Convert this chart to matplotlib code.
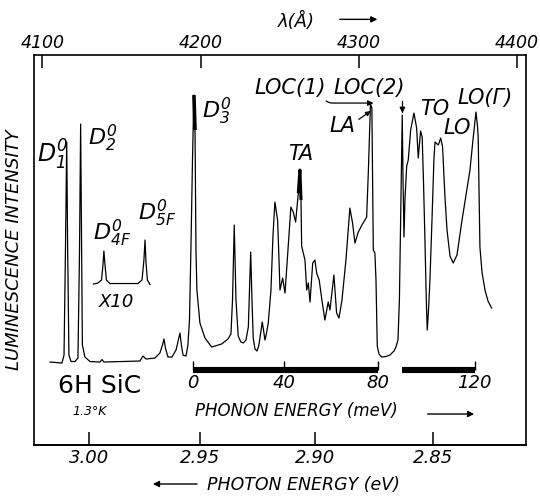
import numpy as np
import matplotlib
matplotlib.use("Agg")
import matplotlib.pyplot as plt

plt.rcParams['font.family'] = ['DejaVu Sans']
plt.rcParams['font.style'] = 'italic'
plt.rcParams['mathtext.fontset'] = 'dejavusans'
plt.rcParams['mathtext.default'] = 'it'

# luminescence trace: wavelength (A) vs intensity (arb. units)
wavelength = [4104.8, 4112.4, 4113.7, 4114.6, 4115.4, 4116.0, 4116.8, 4118.1, 4120.6, 4122.5,
              4123.5, 4124.2, 4124.8, 4125.3, 4126.9, 4130.1, 4136.4, 4137.7, 4138.9, 4161.7,
              4163.6, 4165.5, 4171.2, 4174.3, 4175.9, 4176.9, 4177.8, 4179.4, 4181.9, 4184.5,
              4186.0, 4187.0, 4187.9, 4188.9, 4190.8, 4192.0, 4193.0, 4193.9, 4194.9, 4195.8,
              4196.5, 4197.1, 4197.7, 4199.6, 4202.8, 4207.0, 4213.3, 4217.3, 4219.2, 4220.2,
              4221.3, 4222.4, 4223.8, 4225.5, 4227.0, 4228.7, 4230.2, 4231.7, 4232.5, 4233.3,
              4234.4, 4235.7, 4236.9, 4239.0, 4239.8, 4240.7, 4241.7, 4242.8, 4244.5, 4245.8,
              4247.0, 4248.7, 4249.6, 4250.2, 4251.9, 4253.4, 4254.6, 4257.1, 4258.6, 4260.1,
              4261.8, 4262.8, 4263.5, 4263.9, 4266.0, 4267.1, 4268.1, 4269.2, 4270.9, 4272.3,
              4273.4, 4275.0, 4276.7, 4278.6, 4280.7, 4281.8, 4284.3, 4286.0, 4287.5, 4289.4,
              4291.9, 4294.4, 4296.1, 4297.6, 4299.7, 4302.0, 4305.0, 4306.1, 4307.4, 4308.3,
              4309.2, 4310.2, 4310.9, 4311.7, 4312.8, 4314.5, 4317.2, 4319.7, 4322.3, 4323.5,
              4324.8, 4325.7, 4326.7, 4327.5, 4327.9, 4328.6, 4329.2, 4330.3, 4331.3, 4332.8,
              4334.9, 4336.6, 4337.6, 4339.1, 4340.1, 4340.9, 4341.8, 4342.7, 4343.3, 4344.1,
              4345.0, 4346.3, 4347.5, 4348.2, 4350.3, 4351.8, 4353.0, 4354.5, 4355.8, 4357.7,
              4359.7, 4362.1, 4365.0, 4367.8, 4370.3, 4372.2, 4374.1, 4375.0, 4375.5, 4376.0,
              4376.6, 4377.9, 4379.8, 4381.7, 4384.0]
intensity = [82.5, 81.5, 89.5, 194.5, 302.5, 194.5, 89.5, 83.0, 83.0, 86.5,
             194.5, 320.5, 194.5, 99.5, 87.5, 83.0, 82.5, 85.0, 82.5, 83.5,
             88.5, 85.5, 86.5, 91.5, 99.5, 105.5, 96.5, 87.5, 87.5, 94.5,
             104.5, 111.5, 99.5, 89.5, 88.5, 99.5, 124.5, 194.5, 284.5, 349.5,
             314.5, 194.5, 154.5, 121.5, 106.5, 97.5, 100.5, 105.5, 110.5, 144.5,
             219.5, 144.5, 108.5, 102.5, 101.5, 104.5, 117.5, 192.5, 144.5, 106.5,
             95.5, 93.5, 99.5, 122.5, 114.5, 104.5, 111.5, 121.5, 154.5, 209.5,
             242.5, 224.5, 184.5, 154.5, 166.5, 151.5, 179.5, 237.5, 232.5, 222.5,
             251.5, 274.5, 244.5, 198.5, 184.5, 154.5, 161.5, 142.5, 181.5, 184.5,
             171.5, 164.5, 144.5, 124.5, 142.5, 134.5, 169.5, 131.5, 126.5, 144.5,
             184.5, 236.5, 221.5, 201.5, 212.5, 219.5, 227.5, 274.5, 340.5, 336.5,
             194.5, 191.5, 164.5, 98.5, 90.5, 87.5, 88.0, 89.5, 93.5, 97.5,
             104.5, 144.5, 244.5, 329.5, 274.5, 207.5, 244.5, 278.5, 284.5, 314.5,
             331.5, 316.5, 286.5, 313.5, 307.5, 264.5, 207.5, 144.5, 114.5, 134.5,
             164.5, 224.5, 284.5, 302.5, 299.5, 306.5, 297.5, 247.5, 214.5, 188.5,
             181.5, 189.5, 221.5, 249.5, 274.5, 304.5, 332.5, 319.5, 307.5, 254.5,
             197.5, 172.5, 154.5, 143.5, 136.5]

# x10 expanded trace around D4F / D5F
inset_wavelength = [4132.3, 4135.1, 4137.4, 4138.3, 4138.9, 4139.6, 4140.5, 4142.7,
                    4160.4, 4163.0, 4164.2, 4164.9, 4165.5, 4166.4, 4168.0]
inset_intensity = [160.5, 161.5, 164.5, 179.5, 193.5, 179.5, 164.5, 161.0,
                   161.0, 164.5, 184.5, 204.5, 182.5, 164.5, 160.0]

top_ticks = [4100, 4200, 4300, 4400]
ev_ticks = [3.00, 2.95, 2.90, 2.85]
ev_labels = ['3.00', '2.95', '2.90', '2.85']
phonon_ticks = [0, 40, 80, 120]
phonon_bars = [(0, 80), (90, 120)]

E_REF = 2.953   # D3 line, phonon energy zero (eV)
HC = 12398.4


def lam2ev(lam):
    return HC / (np.asarray(lam, dtype=float) + 3.2)


def ev2lam(ev):
    return HC / np.asarray(ev, dtype=float) - 3.2


def ph2lam(ph):
    return ev2lam(E_REF - np.asarray(ph, dtype=float) / 1000.0)


fig = plt.figure(figsize=(5.4, 4.96), dpi=100)
ax = fig.add_axes([0.0635, 0.1038, 0.9105, 0.7852])

ax.plot(wavelength, intensity, color='black', lw=0.9)
ax.plot(inset_wavelength, inset_intensity, color='black', lw=0.9)
# heavy pen strokes at D3 and TA tops
ax.plot(wavelength[39:41], intensity[39:41], color='black', lw=2.6, solid_capstyle='butt')
ax.plot(wavelength[80:83], intensity[80:83], color='black', lw=2.2, solid_capstyle='butt')

ax.set_xlim(4094.9, 4405.7)
ax.set_ylim(0, 389.5)
ax.set_yticks([])
for s in ax.spines.values():
    s.set_linewidth(1.2)

ax.xaxis.tick_top()
ax.set_xticks(top_ticks)
ax.set_xticklabels([str(t) for t in top_ticks])
ax.tick_params(axis='x', direction='in', length=9.5, width=1.1, pad=2, labelsize=12.5)

secax = ax.secondary_xaxis('bottom', functions=(lam2ev, ev2lam))
secax.set_xticks(ev_ticks)
secax.set_xticklabels(ev_labels)
secax.tick_params(direction='in', length=9.5, width=1.1, pad=3, labelsize=13)
secax.spines['bottom'].set_linewidth(1.2)

ax.set_ylabel('LUMINESCENCE INTENSITY', fontsize=13, labelpad=8)

# phonon energy scale
for a, b in phonon_bars:
    ax.plot(ph2lam([a, b]), [74.5, 74.5], color='black', lw=4.4, solid_capstyle='butt')
ax.vlines(ph2lam(phonon_ticks), 74.5, 84, color='black', lw=1)
for t in phonon_ticks:
    ax.text(ph2lam(t), 62, str(t), ha='center', va='center', fontsize=13)
ax.text(4260.6, 33.5, 'PHONON ENERGY (meV)', ha='center', va='center', fontsize=12)
ax.annotate('', xy=(4374.7, 30.5), xytext=(4341.8, 30.5),
            arrowprops=dict(arrowstyle='-|>', color='black', lw=1, mutation_scale=9))

ax.text(4109.9, 51.5, '6H SiC', ha='left', va='baseline', fontsize=18, style='normal')
ax.text(4130.1, 33.5, '1.3°K', ha='center', va='center', fontsize=9)

# peak labels
ax.text(4096.6, 281.5, r'$D_1^0$', ha='left', va='baseline', fontsize=17)
ax.text(4128.6, 299.5, r'$D_2^0$', ha='left', va='baseline', fontsize=16)
ax.text(4200.7, 326.5, r'$D_3^0$', ha='left', va='baseline', fontsize=16)
ax.text(4132.0, 204.5, r'$D_{4F}^0$', ha='left', va='baseline', fontsize=16)
ax.text(4160.2, 224.5, r'$D_{5F}^0$', ha='left', va='baseline', fontsize=16)
ax.text(4146.8, 142.5, 'X10', ha='center', va='center', fontsize=13)
ax.text(4263.5, 291, 'TA', ha='center', va='center', fontsize=15)
ax.text(4348.2, 336, 'TO', ha='center', va='center', fontsize=15)
ax.text(4361.9, 317, 'LO', ha='center', va='center', fontsize=15)
ax.text(4380.1, 346.5, 'LO(Γ)', ha='center', va='center', fontsize=15)
ax.annotate('LA', xy=(4307.6, 333.5), xytext=(4289.4, 318.5), ha='center', va='center',
            fontsize=15,
            arrowprops=dict(arrowstyle='-|>', color='black', lw=0.9, mutation_scale=7,
                            relpos=(1.0, 0.7), shrinkA=1, shrinkB=0))
ax.annotate('LOC(1)', xy=(4309.3, 341.5), xytext=(4256.5, 356.5), ha='center', va='center',
            fontsize=15,
            arrowprops=dict(arrowstyle='-|>', color='black', lw=0.9, mutation_scale=8,
                            relpos=(0.95, 0.0), shrinkA=0, shrinkB=0,
                            connectionstyle='angle,angleA=-35,angleB=180,rad=3'))
ax.annotate('LOC(2)', xy=(4327.6, 331.5), xytext=(4306.4, 356.5), ha='center', va='center',
            fontsize=15,
            arrowprops=dict(arrowstyle='-|>', color='black', lw=0.9, mutation_scale=8,
                            relpos=(1.0, 0.1), shrinkA=0, shrinkB=0,
                            connectionstyle='angle,angleA=0,angleB=90,rad=3'))

# axis titles outside the frame
fig.text(0.548, 0.9577, 'λ(Å)', ha='center', va='center', fontsize=13)
fig.patches.append(matplotlib.patches.FancyArrowPatch(
    (0.624, 0.961), (0.704, 0.961), transform=fig.transFigure,
    arrowstyle='-|>', mutation_scale=9, color='black', lw=1))
fig.text(0.562, 0.0222, 'PHOTON ENERGY (eV)', ha='center', va='center', fontsize=12.5)
fig.patches.append(matplotlib.patches.FancyArrowPatch(
    (0.370, 0.0242), (0.278, 0.0242), transform=fig.transFigure,
    arrowstyle='-|>', mutation_scale=9, color='black', lw=1))

fig.savefig('out.png', dpi=100)
